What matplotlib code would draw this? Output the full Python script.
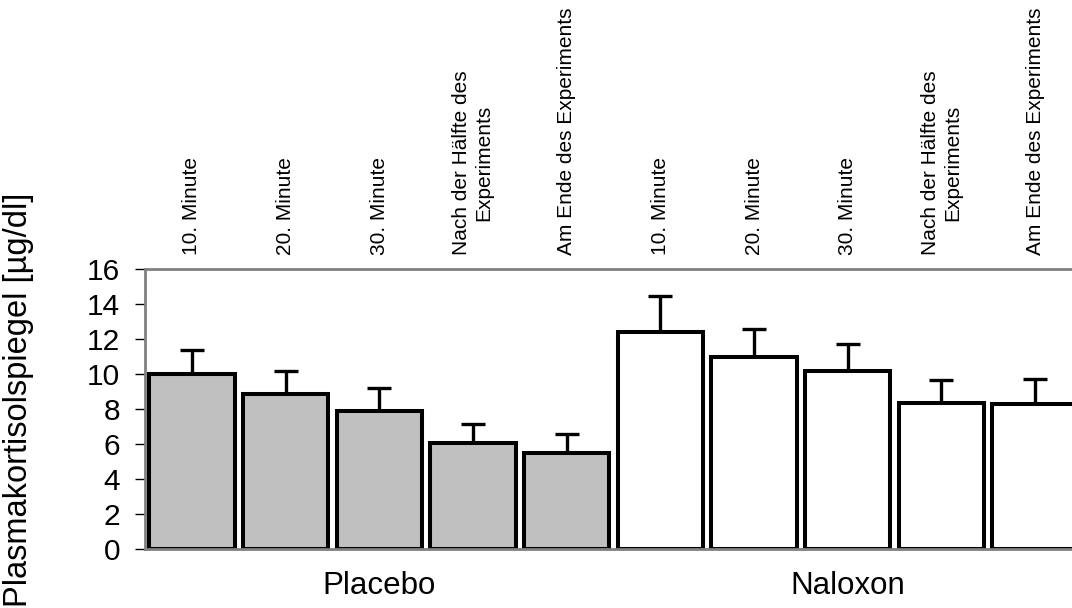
import matplotlib.pyplot as plt
import numpy as np

plt.rcParams['font.family'] = ['Liberation Sans', 'DejaVu Sans']

# Zeitpunkte (oben) und Gruppen (unten)
zeitpunkte = ['10. Minute', '20. Minute', '30. Minute',
              'Nach der Hälfte des\nExperiments', 'Am Ende des Experiments']
gruppen = ['Placebo', 'Naloxon']

# Mittelwerte und obere Fehlerbalken (SEM)
placebo_mw = [10.0, 8.85, 7.9, 6.05, 5.5]
placebo_sem = [1.4, 1.3, 1.3, 1.1, 1.1]
naloxon_mw = [12.4, 10.95, 10.2, 8.35, 8.3]
naloxon_sem = [2.05, 1.6, 1.5, 1.3, 1.4]

werte = placebo_mw + naloxon_mw
fehler = placebo_sem + naloxon_sem
farben = ['#c0c0c0'] * len(placebo_mw) + ['white'] * len(naloxon_mw)
x = np.arange(len(werte))

fig = plt.figure(figsize=(10.72, 6.08), dpi=100)
ax = fig.add_axes([0.1353, 0.097, 0.874, 0.4605])

ax.bar(x, werte, width=0.91, color=farben, edgecolor='black', linewidth=2.9, zorder=2)
ax.errorbar(x, werte, yerr=[np.zeros(len(fehler)), fehler], fmt='none',
            ecolor='black', elinewidth=2.4, capsize=8.5, capthick=2.4, zorder=1)

ax.set_xlim(-0.5, 9.5)
ax.set_ylim(0, 16)
ax.set_yticks(range(0, 17, 2))
ax.tick_params(axis='y', labelsize=21.5, length=7, width=1, direction='out', pad=11)

# Gruppenbeschriftung unten
ax.set_xticks([2, 7])
ax.set_xticklabels(gruppen, fontsize=22.5)
ax.tick_params(axis='x', length=0, pad=16)

for s in ax.spines.values():
    s.set_color('#808080')
    s.set_linewidth(2)

# Zeitpunkte oben über jedem Balken
for i in range(len(werte)):
    ax.annotate(zeitpunkte[i % len(zeitpunkte)], xy=(i, 1), xycoords=('data', 'axes fraction'),
                xytext=(0, 10), textcoords='offset points', rotation=90,
                ha='center', va='bottom', multialignment='center', fontsize=15)

fig.text(0.017, 0.342, 'Plasmakortisolspiegel [µg/dl]', rotation=90,
         ha='center', va='center', fontsize=23.5)

fig.savefig('out.png', dpi=100)
